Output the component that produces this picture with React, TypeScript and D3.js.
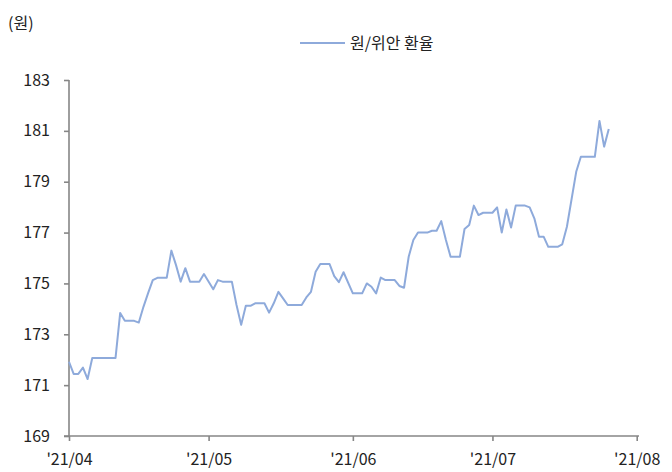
import React, { useEffect, useRef } from 'react';
import * as d3 from 'd3';

// 원/위안 환율 (daily)
const DATES = [
  '2021-04-01', '2021-04-02', '2021-04-03', '2021-04-04', '2021-04-05', '2021-04-06', '2021-04-11', '2021-04-12',
  '2021-04-13', '2021-04-15', '2021-04-16', '2021-04-17', '2021-04-18', '2021-04-19', '2021-04-20', '2021-04-22',
  '2021-04-23', '2021-04-24', '2021-04-25', '2021-04-26', '2021-04-27', '2021-04-29', '2021-04-30', '2021-05-02',
  '2021-05-03', '2021-05-04', '2021-05-06', '2021-05-07', '2021-05-08', '2021-05-09', '2021-05-10', '2021-05-11',
  '2021-05-13', '2021-05-14', '2021-05-15', '2021-05-16', '2021-05-17', '2021-05-18', '2021-05-21', '2021-05-22',
  '2021-05-23', '2021-05-24', '2021-05-25', '2021-05-27', '2021-05-28', '2021-05-29', '2021-05-30', '2021-06-01',
  '2021-06-03', '2021-06-04', '2021-06-05', '2021-06-06', '2021-06-07', '2021-06-08', '2021-06-10', '2021-06-11',
  '2021-06-12', '2021-06-13', '2021-06-14', '2021-06-15', '2021-06-17', '2021-06-18', '2021-06-19', '2021-06-20',
  '2021-06-21', '2021-06-22', '2021-06-24', '2021-06-25', '2021-06-26', '2021-06-27', '2021-06-28', '2021-06-29',
  '2021-07-01', '2021-07-02', '2021-07-03', '2021-07-04', '2021-07-05', '2021-07-06', '2021-07-08', '2021-07-09',
  '2021-07-10', '2021-07-11', '2021-07-12', '2021-07-13', '2021-07-15', '2021-07-16', '2021-07-17', '2021-07-19',
  '2021-07-20', '2021-07-23', '2021-07-24', '2021-07-25', '2021-07-26',
];

const RATES = [
  171.92, 171.44, 171.44, 171.69, 171.24, 172.07, 172.07, 173.84,
  173.53, 173.53, 173.46, 174.08, 174.62, 175.13, 175.22, 175.22,
  176.29, 175.72, 175.07, 175.6, 175.07, 175.07, 175.37, 174.77,
  175.13, 175.07, 175.07, 174.15, 173.37, 174.12, 174.12, 174.22,
  174.22, 173.85, 174.22, 174.67, 174.41, 174.15, 174.15, 174.45,
  174.67, 175.46, 175.76, 175.76, 175.29, 175.05, 175.44, 174.61,
  174.61, 175.0, 174.87, 174.61, 175.23, 175.13, 175.13, 174.9,
  174.83, 176.05, 176.71, 177.0, 177.0, 177.07, 177.07, 177.45,
  176.71, 176.05, 176.05, 177.14, 177.3, 178.06, 177.69, 177.78,
  177.78, 177.99, 177.0, 177.91, 177.2, 178.06, 178.06, 177.99,
  177.56, 176.84, 176.84, 176.44, 176.44, 176.54, 177.23, 179.39,
  179.98, 179.98, 181.39, 180.38, 181.07,
];

const Y_TICKS = [169, 171, 173, 175, 177, 179, 181, 183];
const X_TICKS = ['2021-04-01', '2021-05-01', '2021-06-01', '2021-07-01', '2021-08-01'];

const SERIES_NAME = '원/위안 환율';
const UNIT = '(원)';

const FONT = '"Noto Sans CJK KR", "Noto Sans", sans-serif';

const App: React.FC = () => {
  const svgRef = useRef<SVGSVGElement>(null);

  useEffect(() => {
    if (!svgRef.current) return;
    d3.select(svgRef.current).selectAll('*').remove();

    const width = 672;
    const height = 472;
    const parse = d3.timeParse('%Y-%m-%d');
    const axisColor = '#868686';
    const lineColor = '#8eaadb';
    const textColor = '#222222';

    const svg = d3.select(svgRef.current)
      .attr('width', width)
      .attr('height', height)
      .style('font-family', FONT);

    const x = d3.scaleTime()
      .domain([parse(X_TICKS[0])!, parse(X_TICKS[X_TICKS.length - 1])!])
      .range([69, 636.7]);

    const y = d3.scaleLinear()
      .domain([169, 183])
      .range([436, 80]);

    // Y axis
    const yAxis = svg.append('g')
      .attr('transform', 'translate(69,0)')
      .call(d3.axisLeft(y).tickValues(Y_TICKS).tickSize(5).tickPadding(14).tickFormat(d3.format('d')));
    yAxis.select('.domain').attr('stroke', axisColor).attr('stroke-width', 1.6).attr('d', `M0,${y(183)}V${y(169)}`);
    yAxis.selectAll('.tick line').attr('stroke', axisColor).attr('stroke-width', 1.6);
    yAxis.selectAll('.tick text')
      .attr('fill', textColor)
      .style('font-size', '16px')
      .style('font-family', FONT);

    // X axis
    const xAxis = svg.append('g')
      .attr('transform', `translate(0,${y(169)})`)
      .call(
        d3.axisBottom(x)
          .tickValues(X_TICKS.map(d => parse(d)!))
          .tickSize(5)
          .tickPadding(13)
          .tickFormat(d => d3.timeFormat("'%y/%m")(d as Date))
      );
    xAxis.select('.domain').attr('stroke', axisColor).attr('stroke-width', 1.6).attr('d', 'M64,0H639');
    xAxis.selectAll('.tick line').attr('stroke', axisColor).attr('stroke-width', 1.6);
    xAxis.selectAll('.tick text')
      .attr('fill', textColor)
      .style('font-size', '16px')
      .style('font-family', FONT);

    // Line
    const data = DATES.map((d, i) => ({ date: parse(d)!, value: RATES[i] }));
    const line = d3.line<{ date: Date; value: number }>()
      .x(d => x(d.date))
      .y(d => y(d.value));

    svg.append('path')
      .datum(data)
      .attr('fill', 'none')
      .attr('stroke', lineColor)
      .attr('stroke-width', 2)
      .attr('stroke-linejoin', 'round')
      .attr('d', line);

    // Unit label
    svg.append('text')
      .attr('x', 8)
      .attr('y', 29)
      .text(UNIT)
      .attr('fill', textColor)
      .style('font-size', '16px');

    // Legend
    svg.append('line')
      .attr('x1', 300)
      .attr('x2', 345)
      .attr('y1', 43)
      .attr('y2', 43)
      .attr('stroke', lineColor)
      .attr('stroke-width', 2);

    svg.append('text')
      .attr('x', 350)
      .attr('y', 49)
      .text(SERIES_NAME)
      .attr('fill', textColor)
      .style('font-size', '16px');
  }, []);

  return (
    <svg ref={svgRef} style={{ position: 'absolute', left: 0, top: 0, display: 'block' }} />
  );
};

export default App;
